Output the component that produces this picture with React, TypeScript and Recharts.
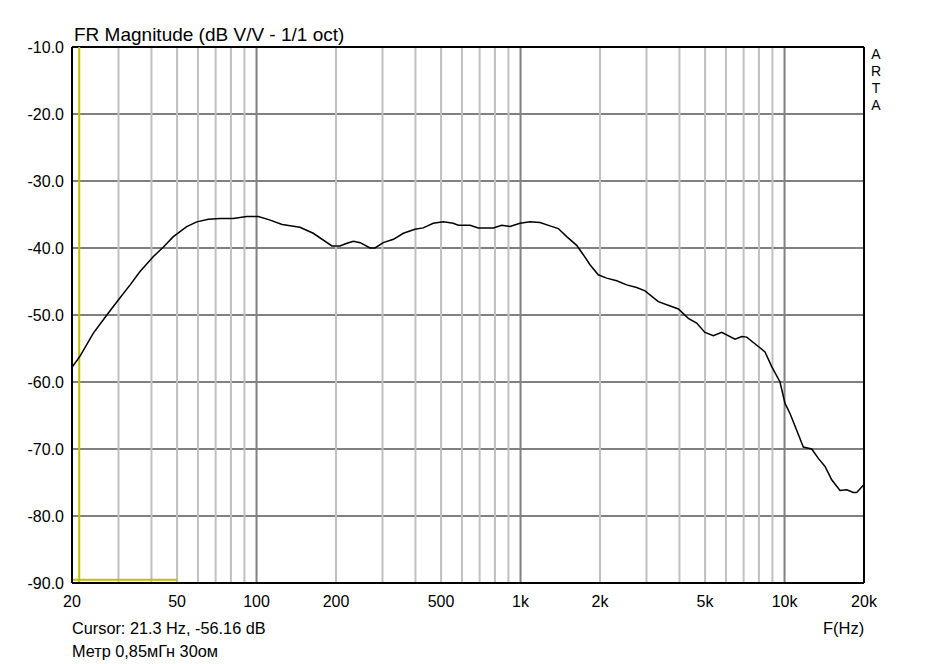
import React from "react";
import { LineChart, Line, XAxis, YAxis, CartesianGrid, ReferenceLine } from "recharts";

const freqs = [20, 21.4, 24.1, 27.1, 29.9, 33.2, 36.2, 40.6, 44.3, 48.4, 54.4, 59.4, 65.7, 72.7, 81.7, 91.8, 101.6, 112, 125, 146, 164, 193, 207, 220, 233, 247, 269, 281, 302, 330, 360, 398, 428, 467, 510, 556, 581, 644, 692, 789, 849, 912, 995, 1086, 1185, 1293, 1390, 1496, 1632, 1729, 1833, 1970, 2120, 2314, 2524, 2754, 2962, 3326, 3962, 4320, 4648, 4996, 5374, 5781, 6494, 6884, 7192, 7956, 8434, 8944, 9614, 10042, 10490, 11118, 11780, 12676, 13428, 14238, 15090, 16224, 17202, 18220, 18766, 19876];
const magnitudes = [-57.8, -56.2, -52.7, -50.0, -47.8, -45.5, -43.5, -41.3, -39.9, -38.3, -36.8, -36.1, -35.7, -35.6, -35.6, -35.3, -35.3, -35.8, -36.5, -36.9, -37.8, -39.7, -39.7, -39.3, -39.0, -39.2, -40.0, -40.0, -39.2, -38.7, -37.8, -37.2, -37.0, -36.3, -36.1, -36.3, -36.6, -36.6, -37.0, -37.0, -36.6, -36.8, -36.3, -36.1, -36.2, -36.7, -37.1, -38.3, -39.6, -41.0, -42.5, -44.0, -44.5, -44.9, -45.5, -45.9, -46.4, -48.0, -49.1, -50.5, -51.2, -52.6, -53.1, -52.6, -53.6, -53.2, -53.3, -54.7, -55.5, -57.7, -60.0, -63.2, -64.7, -67.2, -69.7, -70.0, -71.4, -72.6, -74.6, -76.2, -76.1, -76.5, -76.5, -75.4];

const xTicks = [20, 50, 100, 200, 500, 1000, 2000, 5000, 10000, 20000];
const yTicks = [-90, -80, -70, -60, -50, -40, -30, -20, -10];
const minorGrid = [30, 40, 50, 60, 70, 80, 90, 200, 300, 400, 500, 600, 700, 800, 900, 2000, 3000, 4000, 5000, 6000, 7000, 8000, 9000];
const majorGrid = [100, 1000, 10000];
const cursorFreq = 21.3;
const cursorSpanEnd = 50;
const cursorLevel = -89.5;

const data = freqs.map((f, i) => ({ f, m: magnitudes[i] }));

const fmtX = (v: number) => (v >= 1000 ? `${v / 1000}k` : `${v}`);
const FONT = "'Liberation Sans', Arial, sans-serif";

export default function App() {
  return (
    <div style={{ position: "absolute", left: 0, top: 0, width: 937, height: 664, background: "#fff", fontFamily: FONT }}>
      <LineChart width={937} height={664} data={data} margin={{ top: 47, right: 73, bottom: 0, left: 0 }}>
        <CartesianGrid stroke="#808080" strokeWidth={2} vertical={false} />
        <XAxis
          dataKey="f"
          type="number"
          scale="log"
          domain={[20, 20000]}
          ticks={xTicks}
          tickFormatter={fmtX}
          tickLine={false}
          axisLine={{ stroke: "#000", strokeWidth: 2 }}
          tick={{ fill: "#000", fontSize: 16, fontFamily: FONT }}
          tickMargin={7}
          height={81}
          interval={0}
          allowDataOverflow
        />
        <YAxis
          type="number"
          domain={[-90, -10]}
          ticks={yTicks}
          tickFormatter={(v: number) => v.toFixed(1)}
          tickLine={false}
          axisLine={{ stroke: "#000", strokeWidth: 2 }}
          tick={{ fill: "#000", fontSize: 16, fontFamily: FONT }}
          tickMargin={2}
          width={72}
          interval={0}
          allowDataOverflow
        />
        {minorGrid.map((g) => (
          <ReferenceLine key={`mi${g}`} x={g} stroke="#c0c0c0" strokeWidth={2} />
        ))}
        {majorGrid.map((g) => (
          <ReferenceLine key={`ma${g}`} x={g} stroke="#808080" strokeWidth={2} />
        ))}
        <ReferenceLine y={-10} stroke="#000" strokeWidth={2} />
        <ReferenceLine x={20000} stroke="#000" strokeWidth={2} />
        <ReferenceLine x={cursorFreq} stroke="#c0c000" strokeWidth={2} />
        <ReferenceLine segment={[{ x: 20, y: cursorLevel }, { x: cursorSpanEnd, y: cursorLevel }]} stroke="#c0c000" strokeWidth={2} />
        <Line type="linear" dataKey="m" stroke="#000" strokeWidth={1.5} dot={false} isAnimationActive={false} />
      </LineChart>
      <div style={{ position: "absolute", left: 74, top: 24, fontSize: 19, lineHeight: "22px", color: "#000", whiteSpace: "nowrap" }}>
        FR Magnitude (dB V/V - 1/1 oct)
      </div>
      <div style={{ position: "absolute", left: 72, top: 618, fontSize: 16.3, lineHeight: "20px", color: "#000", whiteSpace: "nowrap" }}>
        Cursor: 21.3 Hz, -56.16 dB
      </div>
      <div style={{ position: "absolute", left: 72, top: 641, fontSize: 16.3, lineHeight: "20px", color: "#000", whiteSpace: "nowrap" }}>
        Метр 0,85мГн 30ом
      </div>
      <div style={{ position: "absolute", left: 823, top: 618, fontSize: 16.5, lineHeight: "20px", color: "#000", whiteSpace: "nowrap" }}>
        F(Hz)
      </div>
      <div style={{ position: "absolute", left: 868, top: 46, width: 16, fontSize: 14, lineHeight: "17px", color: "#000", textAlign: "center" }}>
        <div>A</div>
        <div>R</div>
        <div>T</div>
        <div>A</div>
      </div>
    </div>
  );
}
